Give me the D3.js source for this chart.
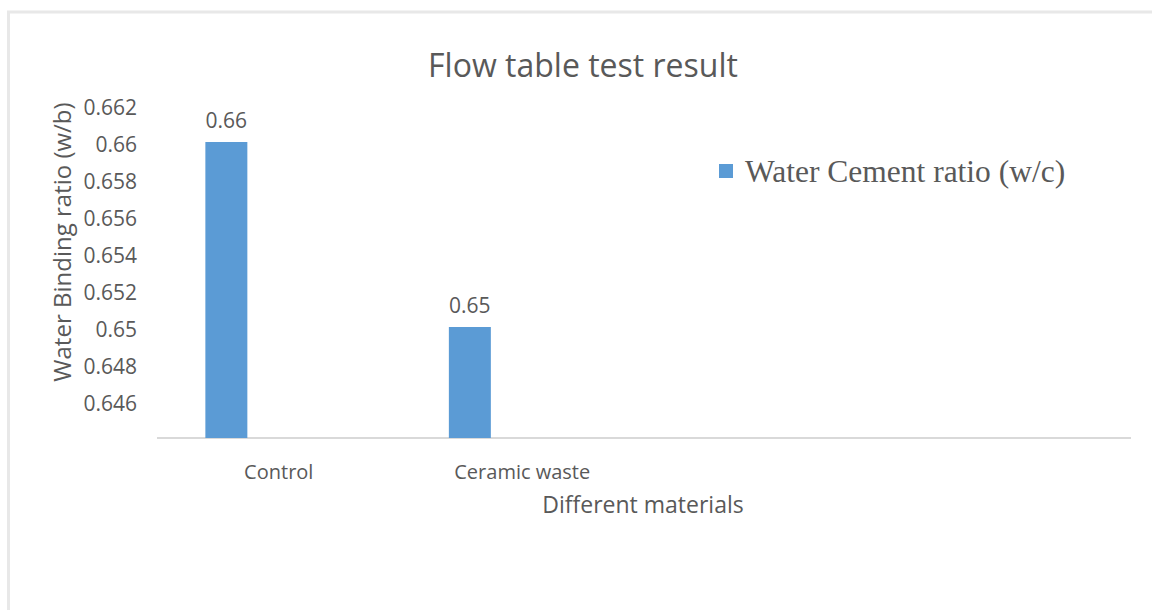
<!DOCTYPE html>
<html>
<head>
<meta charset="utf-8">
<script src="https://cdn.jsdelivr.net/npm/d3@7"></script>
<style>
  html, body { margin: 0; padding: 0; background: #fff; }
  svg { display: block; }
</style>
</head>
<body>
<div class="container"></div>
<script>
// Data
const categories = ['Control', 'Ceramic waste'];
const emptySlots = ['slot 3', 'slot 4']; // empty rows in the source sheet
const seriesName = 'Water Cement ratio (w/c)';
const values = [0.66, 0.65];
const yTicks = [0.646, 0.648, 0.65, 0.652, 0.654, 0.656, 0.658, 0.66, 0.662];
const yDomain = [0.644, 0.662];

const titleText = 'Flow table test result';
const xTitle = 'Different materials';
const yTitle = 'Water Binding ratio (w/b)';

// Constants
const width = 1152;
const height = 610;
const margin = { top: 105, right: 21, bottom: 172, left: 157 };
const textColor = '#595959';
const barColor = '#5b9bd5';
const sans = "'Open Sans', 'Noto Sans', sans-serif";

const svg = d3
  .select('.container')
  .append('svg')
  .attr('width', width)
  .attr('height', height);

// Outer chart frame
svg
  .append('rect')
  .attr('x', 8.5)
  .attr('y', 12)
  .attr('width', width + 20)
  .attr('height', height + 20)
  .attr('fill', 'none')
  .attr('stroke', '#e8e8e8')
  .attr('stroke-width', 3);

// Scales
const x0 = d3
  .scaleBand()
  .domain(categories.concat(emptySlots))
  .range([margin.left, width - margin.right])
  .padding(0);

const x1 = d3
  .scaleBand()
  .domain([seriesName])
  .range([0, x0.bandwidth()])
  .paddingOuter(2.4)
  .align(0.24);

const y = d3
  .scaleLinear()
  .domain(yDomain)
  .range([height - margin.bottom, margin.top]);

// Title
svg
  .append('text')
  .attr('x', 583)
  .attr('y', 77)
  .attr('text-anchor', 'middle')
  .style('font-family', sans)
  .style('font-size', '32px')
  .style('fill', textColor)
  .text(titleText);

// Y axis
const yAxis = svg
  .append('g')
  .attr('transform', `translate(${margin.left - 20}, 3)`)
  .call(d3.axisLeft(y).tickValues(yTicks).tickSize(0).tickPadding(0).tickFormat(d3.format('~g')));
yAxis.select('.domain').remove();
yAxis
  .selectAll('text')
  .style('font-family', sans)
  .style('font-size', '21px')
  .style('fill', textColor);

// Baseline
svg
  .append('line')
  .attr('x1', x0.range()[0])
  .attr('x2', x0.range()[1])
  .attr('y1', y(yDomain[0]))
  .attr('y2', y(yDomain[0]))
  .attr('stroke', '#d9d9d9')
  .attr('stroke-width', 2);

// Bars
const bars = svg
  .append('g')
  .selectAll('g')
  .data(categories.map((c, i) => ({ category: c, value: values[i] })))
  .enter()
  .append('g')
  .attr('transform', (d) => `translate(${x0(d.category)}, 0)`);

bars
  .append('rect')
  .attr('x', x1(seriesName))
  .attr('y', (d) => y(d.value))
  .attr('width', x1.bandwidth())
  .attr('height', (d) => y(yDomain[0]) - y(d.value))
  .attr('fill', barColor);

// Data labels
bars
  .append('text')
  .attr('x', x1(seriesName) + x1.bandwidth() / 2)
  .attr('y', (d) => y(d.value) - 14)
  .attr('text-anchor', 'middle')
  .style('font-family', sans)
  .style('font-size', '21px')
  .style('fill', textColor)
  .text((d) => d3.format('~g')(d.value));

// Category labels
svg
  .append('g')
  .selectAll('text')
  .data(categories)
  .enter()
  .append('text')
  .attr('x', (d) => x0(d) + x0.bandwidth() / 2)
  .attr('y', 479)
  .attr('text-anchor', 'middle')
  .style('font-family', sans)
  .style('font-size', '20px')
  .style('fill', textColor)
  .text((d) => d);

// Axis titles
svg
  .append('text')
  .attr('x', 643)
  .attr('y', 513)
  .attr('text-anchor', 'middle')
  .style('font-family', sans)
  .style('font-size', '23px')
  .style('fill', textColor)
  .text(xTitle);

svg
  .append('text')
  .attr('transform', 'translate(71, 242) rotate(-90)')
  .attr('text-anchor', 'middle')
  .style('font-family', sans)
  .style('font-size', '24px')
  .style('fill', textColor)
  .text(yTitle);

// Legend
const legend = svg.append('g').attr('transform', 'translate(719, 164)');
legend
  .append('rect')
  .attr('width', 14)
  .attr('height', 14)
  .attr('fill', barColor);
legend
  .append('text')
  .attr('x', 26)
  .attr('y', 18)
  .style('font-family', "'Liberation Serif', 'Times New Roman', serif")
  .style('font-size', '31.5px')
  .style('fill', textColor)
  .text(seriesName);
</script>
</body>
</html>
